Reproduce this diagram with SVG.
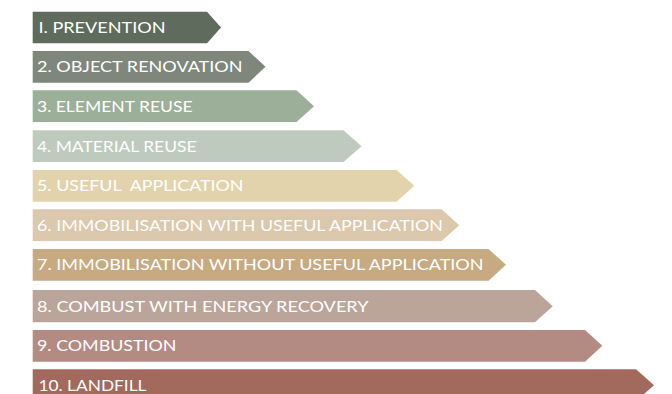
<svg xmlns="http://www.w3.org/2000/svg" width="672" height="394" viewBox="0 0 672 394">
<style>
.lbl{font-family:"Lato","Open Sans","Liberation Sans",sans-serif;font-size:15.5px;fill:#ffffff;}
</style>
<rect width="672" height="394" fill="#ffffff"/>
<g id="n1"><polygon points="32.7,11.7 207,11.7 221,27.5 207,43.3 32.7,43.3" fill="#5f6b5c"/><text class="lbl" x="38.5" y="33" textLength="127" lengthAdjust="spacingAndGlyphs">I. PREVENTION</text></g>
<g id="n2"><polygon points="32.7,51 248.5,51 265.5,66.8 248.5,82.7 32.7,82.7" fill="#7f877c"/><text class="lbl" x="37" y="72.3" textLength="205.5" lengthAdjust="spacingAndGlyphs">2. OBJECT RENOVATION</text></g>
<g id="n3"><polygon points="32.7,90.3 296.5,90.3 314,106.2 296.5,122 32.7,122" fill="#9caf98"/><text class="lbl" x="37" y="111.5" textLength="155.5" lengthAdjust="spacingAndGlyphs">3. ELEMENT REUSE</text></g>
<g id="n4"><polygon points="32.7,130.3 343.5,130.3 361.5,146.2 343.5,162 32.7,162" fill="#bfcabf"/><text class="lbl" x="37" y="151.5" textLength="159.5" lengthAdjust="spacingAndGlyphs">4. MATERIAL REUSE</text></g>
<g id="n5"><polygon points="32.7,170 396.5,170 414.3,185.8 396.5,201.7 32.7,201.7" fill="#e2d3ac"/><text class="lbl" x="37" y="191.3" textLength="206.5" lengthAdjust="spacingAndGlyphs" xml:space="preserve">5. USEFUL  APPLICATION</text></g>
<g id="n6"><polygon points="32.7,209.3 441.5,209.3 459.3,225.2 441.5,241 32.7,241" fill="#dcc8ac"/><text class="lbl" x="37" y="230.6" textLength="406" lengthAdjust="spacingAndGlyphs">6. IMMOBILISATION WITH USEFUL APPLICATION</text></g>
<g id="n7"><polygon points="32.7,249 488.5,249 506,264.8 488.5,280.7 32.7,280.7" fill="#c8aa82"/><text class="lbl" x="37" y="270.3" textLength="446.5" lengthAdjust="spacingAndGlyphs">7. IMMOBILISATION WITHOUT USEFUL APPLICATION</text></g>
<g id="n8"><polygon points="32.7,290 535,290 552.7,306.2 535,322.3 32.7,322.3" fill="#bba59a"/><text class="lbl" x="37" y="311.5" textLength="331.5" lengthAdjust="spacingAndGlyphs">8. COMBUST WITH ENERGY RECOVERY</text></g>
<g id="n9"><polygon points="32.7,330 585,330 602.3,345.8 585,361.7 32.7,361.7" fill="#b48b83"/><text class="lbl" x="37" y="351.3" textLength="139.5" lengthAdjust="spacingAndGlyphs">9. COMBUSTION</text></g>
<g id="n10"><polygon points="32.7,369.3 636,369.3 654,385.2 636,401 32.7,401" fill="#a26a5c"/><text class="lbl" x="38.5" y="390.6" textLength="108" lengthAdjust="spacingAndGlyphs">10. LANDFILL</text></g>
<g id="connectors"></g>
</svg>
